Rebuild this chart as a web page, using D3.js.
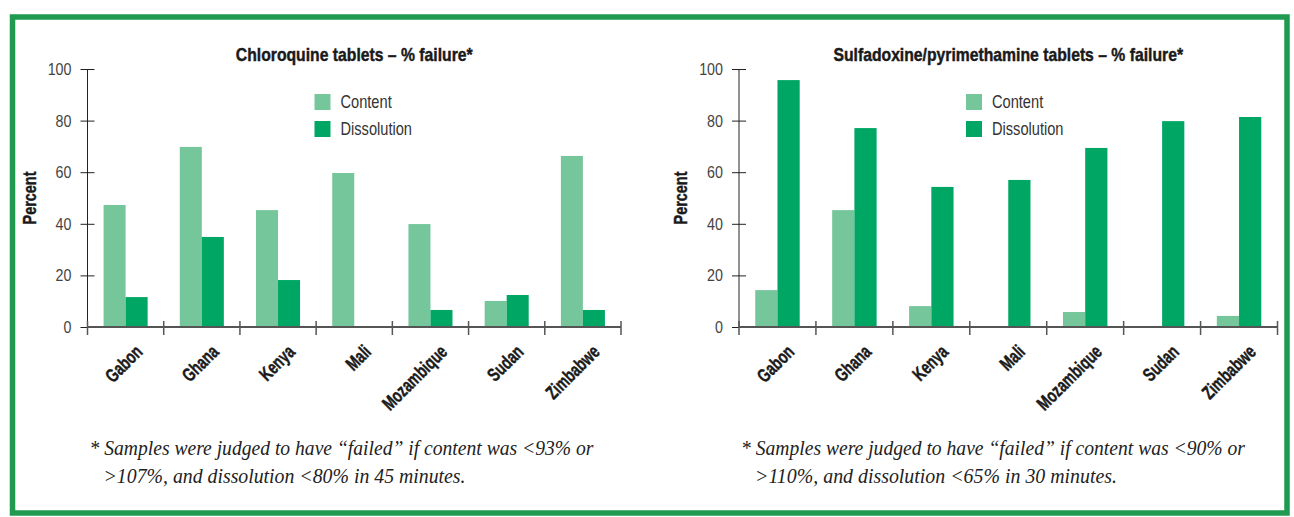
<!DOCTYPE html>
<html>
<head>
<meta charset="utf-8">
<script src="https://cdn.jsdelivr.net/npm/d3@7"></script>
<style>
  body { margin: 0; background: #fff; }
  svg { display: block; }
  .cond { font-family: "Liberation Sans", Arial, sans-serif; }
  .heavy { stroke: #1a1a1a; stroke-width: 0.45px; }
  .note { font-family: "Liberation Serif", "DejaVu Serif", serif; font-style: italic; }
</style>
</head>
<body>
<svg id="drawing_region"></svg>
<script>
const countries = ['Gabon', 'Ghana', 'Kenya', 'Mali', 'Mozambique', 'Sudan', 'Zimbabwe'];
const seriesNames = ['Content', 'Dissolution'];
const seriesColors = ['#76c69c', '#00a764'];
const yTicks = [0, 20, 40, 60, 80, 100];

// chloroquine
const cqContent = [47.3, 69.8, 45.3, 59.7, 39.9, 10.1, 66.3];
const cqDissolution = [11.6, 34.9, 18.2, 0, 6.6, 12.4, 6.6];

// sulfadoxine/pyrimethamine
const spContent = [14.3, 45.3, 8.1, 0, 5.8, 0, 4.3];
const spDissolution = [95.7, 77.1, 54.3, 57.0, 69.4, 79.8, 81.4];

const cqTitle = 'Chloroquine tablets \u2013 % failure*';
const spTitle = 'Sulfadoxine/pyrimethamine tablets \u2013 % failure*';
const cqNote = ['* Samples were judged to have \u201cfailed\u201d if content was <93% or',
                '>107%, and dissolution <80% in 45 minutes.'];
const spNote = ['* Samples were judged to have \u201cfailed\u201d if content was <90% or',
                '>110%, and dissolution <65% in 30 minutes.'];

const svg = d3.select('#drawing_region')
    .attr('width', 1294)
    .attr('height', 517);

// green frame
svg.append('rect')
    .attr('x', 12.5).attr('y', 17)
    .attr('width', 1274.5).attr('height', 496)
    .attr('fill', 'none')
    .attr('stroke', '#1f9a50')
    .attr('stroke-width', 5.5);

// squeeze text to look like the condensed face of the original
function condense( sel, k ) {
    sel.each( function() {
        d3.select(this)
            .attr('textLength', this.getComputedTextLength() * k)
            .attr('lengthAdjust', 'spacingAndGlyphs');
    });
}

class BarPanel {

    constructor( config, content, dissolution ) {
        this.config = config;
        this.data = countries.map( (c, i) => ({ country: c, values: [content[i], dissolution[i]] }) );
        this.init();
    }

    init() {
        let self = this;

        self.xscale = d3.scaleBand()
            .domain(countries)
            .range([self.config.left, self.config.right]);

        self.x1 = d3.scaleBand()
            .domain(seriesNames)
            .range([0, self.xscale.bandwidth()])
            .paddingOuter(0.73);

        self.yscale = d3.scaleLinear()
            .domain([0, 100])
            .range([self.config.bottom, self.config.top]);

        self.chart = svg.append('g');
    }

    render() {
        let self = this;
        const x0 = self.xscale, y = self.yscale;

        // bars
        self.chart.selectAll('.grp')
            .data(self.data)
            .join('g')
            .attr('transform', d => `translate(${x0(d.country)},0)`)
            .selectAll('rect')
            .data(d => d.values.map( (v, i) => ({ key: seriesNames[i], value: v, i: i }) ))
            .join('rect')
            .attr('x', d => self.x1(d.key))
            .attr('width', self.x1.bandwidth())
            .attr('y', d => y(d.value))
            .attr('height', d => y(0) - y(d.value))
            .attr('fill', d => seriesColors[d.i]);

        // y axis
        const yAxis = self.chart.append('g')
            .attr('transform', `translate(${self.config.left},0)`)
            .call( d3.axisLeft(y).tickValues(yTicks).tickSize(7).tickPadding(9) );
        yAxis.select('.domain').attr('stroke', '#222').attr('d', `M0,${y(0)}V${y(100)}`);
        yAxis.selectAll('.tick line').attr('x1', 7).attr('stroke', '#222');
        yAxis.selectAll('.tick text')
            .attr('class', 'cond')
            .attr('font-size', 17)
            .attr('fill', '#444')
            .call(condense, 0.84);

        // x axis, ticks between groups
        const xAxis = self.chart.append('g')
            .attr('transform', `translate(0,${y(0)})`);
        xAxis.append('line')
            .attr('x1', self.config.left).attr('x2', self.config.right)
            .attr('stroke', '#555').attr('stroke-width', 2);
        const bounds = countries.map(c => x0(c)).concat([self.config.right]);
        xAxis.selectAll('.xt')
            .data(bounds)
            .join('line')
            .attr('x1', d => d).attr('x2', d => d)
            .attr('y1', -6).attr('y2', 8)
            .attr('stroke', '#555').attr('stroke-width', 1.5);
        xAxis.selectAll('.xl')
            .data(countries)
            .join('text')
            .attr('class', 'cond heavy')
            .attr('transform', d => `translate(${x0(d) + x0.bandwidth() / 2 + 18},${26}) rotate(-45)`)
            .attr('text-anchor', 'end')
            .attr('font-size', 19)
            .attr('font-weight', 700)
            .attr('fill', '#1a1a1a')
            .text(d => d)
            .call(condense, 0.72);

        // title
        self.chart.append('text')
            .attr('class', 'cond heavy')
            .attr('x', (self.config.left + self.config.right) / 2)
            .attr('y', 61)
            .attr('text-anchor', 'middle')
            .attr('font-size', 18.5)
            .attr('font-weight', 700)
            .attr('fill', '#1a1a1a')
            .text(self.config.title)
            .call(condense, 0.85);

        // y label
        self.chart.append('text')
            .attr('class', 'cond heavy')
            .attr('transform', `translate(${self.config.left - 52},${(y(0) + y(100)) / 2}) rotate(-90)`)
            .attr('text-anchor', 'middle')
            .attr('font-size', 19)
            .attr('font-weight', 700)
            .attr('fill', '#1a1a1a')
            .text('Percent')
            .call(condense, 0.76);

        // legend
        const lg = self.chart.append('g')
            .attr('transform', `translate(${self.config.left + 227},94)`);
        seriesNames.forEach( (s, i) => {
            lg.append('rect')
                .attr('x', 0).attr('y', i * 27)
                .attr('width', 16).attr('height', 16)
                .attr('fill', seriesColors[i]);
            lg.append('text')
                .attr('class', 'cond')
                .attr('x', 26).attr('y', i * 27 + 14)
                .attr('font-size', 18.5)
                .attr('fill', '#333')
                .text(s)
                .call(condense, 0.79);
        });

        // footnote
        const noteLen = [504, 362];
        self.config.note.forEach( (line, i) => {
            self.chart.append('text')
                .attr('class', 'note')
                .attr('x', self.config.left + (i === 0 ? 2 : 16))
                .attr('y', 455 + i * 28)
                .attr('font-size', 20)
                .attr('fill', '#222')
                .attr('textLength', noteLen[i])
                .attr('lengthAdjust', 'spacingAndGlyphs')
                .text(line);
        });
    }
}

const cqPanel = new BarPanel({ left: 87.5, right: 621, top: 69, bottom: 327, title: cqTitle, note: cqNote },
                             cqContent, cqDissolution);
cqPanel.render();

const spPanel = new BarPanel({ left: 739, right: 1277.5, top: 69, bottom: 327, title: spTitle, note: spNote },
                             spContent, spDissolution);
spPanel.render();
</script>
</body>
</html>
